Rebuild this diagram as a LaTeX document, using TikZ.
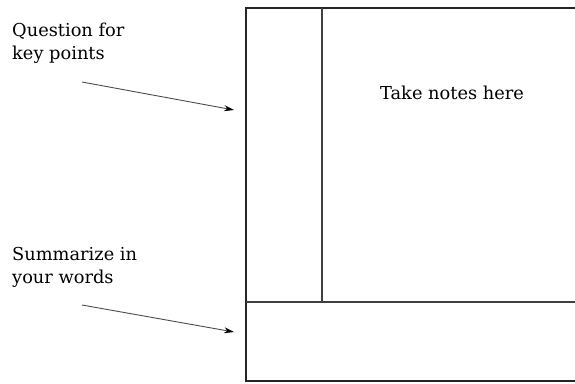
\documentclass[tikz,border=0pt]{standalone}
\usepackage{fontspec}
\setmainfont{DejaVu Serif}
\usetikzlibrary{arrows.meta}
\begin{document}
\begin{tikzpicture}[x=1pt,y=-1pt,
  lbl/.style={font=\fontsize{17.8}{23}\selectfont, align=left, inner sep=0pt, anchor=north west},
  frame/.style={line width=1.8pt, black!85},
  divider/.style={line width=1.3pt, black!75},
  pointer/.style={line width=0.9pt, black!70, -{Stealth[length=10pt,width=6pt,color=black]}}]
\useasboundingbox (0,0) rectangle (575,383);
% outer sheet (right side runs off the page)
\coordinate (tr) at (578,8);
\coordinate (tl) at (246,8);
\coordinate (bl) at (246,381);
\coordinate (br) at (578,381);
\draw[frame] (tr) -- (tl) -- (bl) -- (br);
% dividers
\coordinate (vt) at (322,8);
\coordinate (vb) at (322,302);
\coordinate (hl) at (246,302);
\coordinate (hr) at (578,302);
\draw[divider] (vt) -- (vb);
\draw[divider] (hl) -- (hr);
% labels
\node[lbl] (q) at (12,23) {Question for\\key points};
\node[lbl] (s) at (12,247) {Summarize in\\your words};
\node[font=\fontsize{17.8}{23}\selectfont, inner sep=0pt] (n) at (452,93) {Take notes here};
% arrows
\coordinate (qa) at (82,82);
\coordinate (qb) at (234,110);
\coordinate (sa) at (82,305);
\coordinate (sb) at (234,332);
\draw[pointer] (qa) -- (qb);
\draw[pointer] (sa) -- (sb);
\end{tikzpicture}
\end{document}
